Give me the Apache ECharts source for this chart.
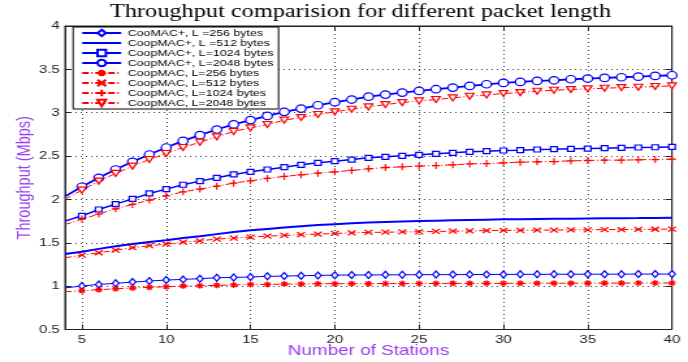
<!DOCTYPE html>
<html><head><meta charset="utf-8">
<script src="https://cdn.jsdelivr.net/npm/echarts@6/dist/echarts.min.js"></script>
<style>
html,body{margin:0;padding:0;background:#fff;overflow:hidden}
#wrap{width:688px;height:362px;overflow:hidden;position:relative}
#chart{width:529px;height:362px;transform:scaleX(1.30057);transform-origin:0 0}
</style></head><body><div id="wrap"><div id="chart"></div></div>
<script>
// ---- data ----
const stations = [4,5,6,7,8,9,10,11,12,13,14,15,16,17,18,19,20,21,22,23,24,25,26,27,28,29,30,31,32,33,34,35,36,37,38,39,40];
const xTicks = [5,10,15,20,25,30,35,40];
const seriesNames = [
  "CooMAC+, L =256 bytes","CoopMAC+, L =512 bytes","CoopMAC+, L=1024 bytes","CoopMAC+, L=2048 bytes",
  "CoopMAC, L=256 bytes","CoopMAC, L=512 bytes","CoopMAC, L=1024 bytes","CoopMAC, L=2048 bytes"];
const plus256 = [0.98,1.001,1.020,1.032,1.047,1.059,1.070,1.078,1.086,1.097,1.101,1.105,1.113,1.116,1.120,1.124,1.127,1.128,1.129,1.130,1.131,1.132,1.133,1.133,1.134,1.135,1.135,1.136,1.136,1.137,1.137,1.138,1.138,1.138,1.139,1.139,1.139];
const plus512 = [1.37,1.397,1.43,1.46,1.485,1.51,1.53,1.555,1.575,1.60,1.625,1.645,1.66,1.675,1.69,1.705,1.715,1.725,1.733,1.74,1.745,1.75,1.755,1.76,1.764,1.767,1.77,1.772,1.774,1.776,1.778,1.78,1.782,1.784,1.785,1.787,1.788];
const plus1024 = [1.75,1.811,1.884,1.946,2.007,2.069,2.119,2.169,2.211,2.249,2.288,2.318,2.345,2.372,2.399,2.422,2.441,2.460,2.480,2.491,2.503,2.514,2.526,2.537,2.549,2.556,2.564,2.568,2.576,2.579,2.583,2.587,2.591,2.595,2.599,2.602,2.606];
const plus2048 = [2.035,2.146,2.249,2.345,2.434,2.518,2.599,2.675,2.741,2.806,2.865,2.915,2.963,3.010,3.048,3.086,3.121,3.152,3.185,3.209,3.232,3.251,3.271,3.290,3.309,3.328,3.344,3.355,3.367,3.374,3.386,3.394,3.401,3.409,3.416,3.424,3.432];
const coop256 = [0.935,0.947,0.959,0.970,0.978,0.986,0.993,1.001,1.005,1.009,1.013,1.020,1.020,1.024,1.024,1.028,1.028,1.029,1.029,1.030,1.030,1.031,1.031,1.032,1.032,1.033,1.033,1.033,1.034,1.034,1.034,1.035,1.035,1.035,1.036,1.036,1.036];
const coop512 = [1.327,1.358,1.385,1.416,1.443,1.466,1.485,1.508,1.523,1.543,1.554,1.566,1.577,1.585,1.593,1.600,1.608,1.615,1.619,1.622,1.625,1.627,1.631,1.634,1.637,1.640,1.643,1.644,1.646,1.647,1.649,1.650,1.652,1.653,1.655,1.656,1.658];
const coop1024 = [1.71,1.773,1.831,1.892,1.942,1.992,2.042,2.088,2.119,2.153,2.188,2.215,2.242,2.265,2.284,2.303,2.318,2.334,2.353,2.368,2.376,2.384,2.391,2.399,2.410,2.414,2.422,2.430,2.434,2.437,2.445,2.449,2.453,2.453,2.457,2.460,2.464];
const coop2048 = [2.005,2.107,2.211,2.300,2.384,2.460,2.530,2.599,2.660,2.722,2.784,2.825,2.864,2.914,2.944,2.979,3.010,3.040,3.067,3.094,3.117,3.136,3.152,3.171,3.190,3.205,3.221,3.232,3.248,3.259,3.267,3.275,3.282,3.290,3.294,3.302,3.309];

// ---- build ----
const BLUE = '#0000ff', RED = '#ff0000';
const P_AST = 'path://M5,0L5,10M0,5L10,5M1.5,1.5L8.5,8.5M8.5,1.5L1.5,8.5';
const P_X = 'path://M0,0L10,10M10,0L0,10';
const P_PLUS = 'path://M5,0L5,10M0,5L10,5';
const P_TRI = 'path://M0,0L10,0L5,8.66Z';
function pts(arr){
  return stations.map((x,i)=> i===0 ? {value:[x,arr[i]], symbol:'none'} : [x,arr[i]]);
}
function mk(name, arr, color, symbol, size, lw, dash, fill){
  return {
    name, type:'line', data: pts(arr), xAxisIndex:0, yAxisIndex:0,
    color: color, symbol: symbol, symbolSize: size, showSymbol: symbol!=='none',
    lineStyle:{color, width:lw, type: dash ? [5,2,1,2] : 'solid'},
    itemStyle:{color: fill, borderColor: color, borderWidth: 1.2},
    emphasis:{disabled:true}, z: 3
  };
}
const series = [
  mk(seriesNames[0], plus256, BLUE, 'diamond', [5,7], 1, false, '#fff'),
  mk(seriesNames[1], plus512, BLUE, 'none', 0, 2, false, BLUE),
  mk(seriesNames[2], plus1024, BLUE, 'rect', [5,5], 1.5, false, '#fff'),
  mk(seriesNames[3], plus2048, BLUE, 'circle', [7.5,7.5], 1.8, false, '#fff'),
  mk(seriesNames[4], coop256, RED, P_AST, [6,6], 1, true, RED),
  mk(seriesNames[5], coop512, RED, P_X, [6,5], 1, true, RED),
  mk(seriesNames[6], coop1024, RED, P_PLUS, [6,7], 1, true, RED),
  mk(seriesNames[7], coop2048, RED, P_TRI, [6.5,6], 1, true, '#fff')
];
const legendData = seriesNames.map((n,i)=> i===1 ? {name:n, itemStyle:{opacity:0}} : {name:n});
const font = 'Liberation Sans, Arial, sans-serif';
const PURPLE = '#9a3cf2';
const chart = echarts.init(document.getElementById('chart'));
chart.setOption({
  animation:false,
  backgroundColor:'#fff',
  title:{text:'Throughput comparision for different packet length', left:84.6, top:3, padding:0,
    textStyle:{fontFamily:'Liberation Serif, Times New Roman, serif', fontSize:18.7, fontWeight:'normal', color:'#000'}},
  grid:{left:50, right:12.3, top:26, bottom:32.5, show:true, borderColor:'#222', borderWidth:1,
    backgroundColor:'transparent', outerBoundsMode:'none', containLabel:false},
  legend:{orient:'vertical', left:56.2, top:27, itemWidth:30, itemHeight:8, itemGap:0,
    padding:[1,4,1,6], borderColor:'#000', borderWidth:1, backgroundColor:'#fff',
    selectedMode:false, data: legendData,
    textStyle:{fontFamily:font, fontSize:9.5, color:'#000', lineHeight:10}},
  xAxis:[{
    type:'value', min:4, max:40, position:'bottom',
    name:'Number of Stations', nameLocation:'middle', nameGap:14, nameMoveOverlap:false,
    nameTextStyle:{fontFamily:font, fontSize:14.5, color:PURPLE},
    axisLine:{show:true, lineStyle:{color:'#222'}},
    axisTick:{show:true, inside:true, length:5, customValues:xTicks, lineStyle:{color:'#222'}},
    axisLabel:{customValues:xTicks, fontFamily:font, fontSize:11.5, color:'#222', margin:4},
    splitLine:{show:true, lineStyle:{color:'#444', type:[1,3], width:1}}
  },{
    type:'value', min:4, max:40, position:'top',
    axisLine:{show:true, lineStyle:{color:'#222'}},
    axisTick:{show:true, inside:true, length:5, customValues:xTicks, lineStyle:{color:'#222'}},
    axisLabel:{show:false}, splitLine:{show:false}
  }],
  yAxis:[{
    type:'value', min:0.5, max:4, interval:0.5, position:'left',
    name:'Throughput (Mbps)', nameLocation:'middle', nameGap:23.5, nameMoveOverlap:false,
    nameTextStyle:{fontFamily:font, fontSize:14.5, color:PURPLE},
    axisLine:{show:true, lineStyle:{color:'#222'}},
    axisTick:{show:true, inside:true, length:5, lineStyle:{color:'#222'}},
    axisLabel:{fontFamily:font, fontSize:11.5, color:'#222', margin:4},
    splitLine:{show:true, lineStyle:{color:'#444', type:[1,3], width:1}}
  },{
    type:'value', min:0.5, max:4, interval:0.5, position:'right',
    axisLine:{show:true, lineStyle:{color:'#222'}},
    axisTick:{show:true, inside:true, length:5, lineStyle:{color:'#222'}},
    axisLabel:{show:false}, splitLine:{show:false}
  }],
  series
});
</script></body></html>
